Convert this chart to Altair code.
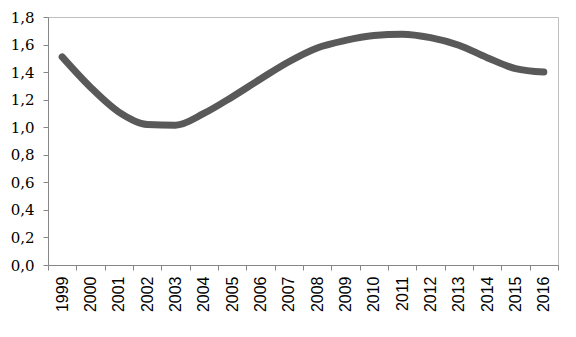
import altair as alt
import pandas as pd

years = [str(y) for y in range(1999, 2017)]
values = [1.51, 1.29, 1.11, 1.02, 1.015, 1.10, 1.22, 1.35, 1.475, 1.575,
          1.63, 1.665, 1.675, 1.65, 1.595, 1.505, 1.425, 1.40]

df = pd.DataFrame({"year": years, "value": values})

line = alt.Chart(df).mark_line(
    color="#595959", strokeWidth=7, interpolate="monotone", strokeCap="round", strokeJoin="round"
).encode(
    x=alt.X("year:O", sort=years, title=None,
            scale=alt.Scale(paddingInner=0, paddingOuter=0),
            axis=alt.Axis(labelAngle=-90, tickBand="extent", labelAlign="right",
                          labelBaseline="middle", labelFont="Arial, Liberation Sans, sans-serif",
                          labelFontSize=16, labelColor="#000000", labelPadding=6, tickSize=5,
                          tickColor="#868686", domainColor="#868686", grid=False)),
    y=alt.Y("value:Q", title=None,
            scale=alt.Scale(domain=[0, 1.8]),
            axis=alt.Axis(values=[0, 0.2, 0.4, 0.6, 0.8, 1.0, 1.2, 1.4, 1.6, 1.8],
                          labelExpr="replace(format(datum.value, '.1f'), '.', ',')",
                          labelFont="DejaVu Serif", labelFontSize=15, labelColor="#000000",
                          labelPadding=9, tickSize=5, tickColor="#868686",
                          domainColor="#868686", grid=False)),
)

chart = line.properties(
    width=510, height=248,
    autosize=alt.AutoSizeParams(type="none"),
    padding={"left": 48, "top": 17, "right": 18, "bottom": 72},
    background="#ffffff",
).configure_view(stroke="#bfbfbf", strokeWidth=1)

chart.save("out.html", embed_options={"renderer": "svg", "actions": False})
